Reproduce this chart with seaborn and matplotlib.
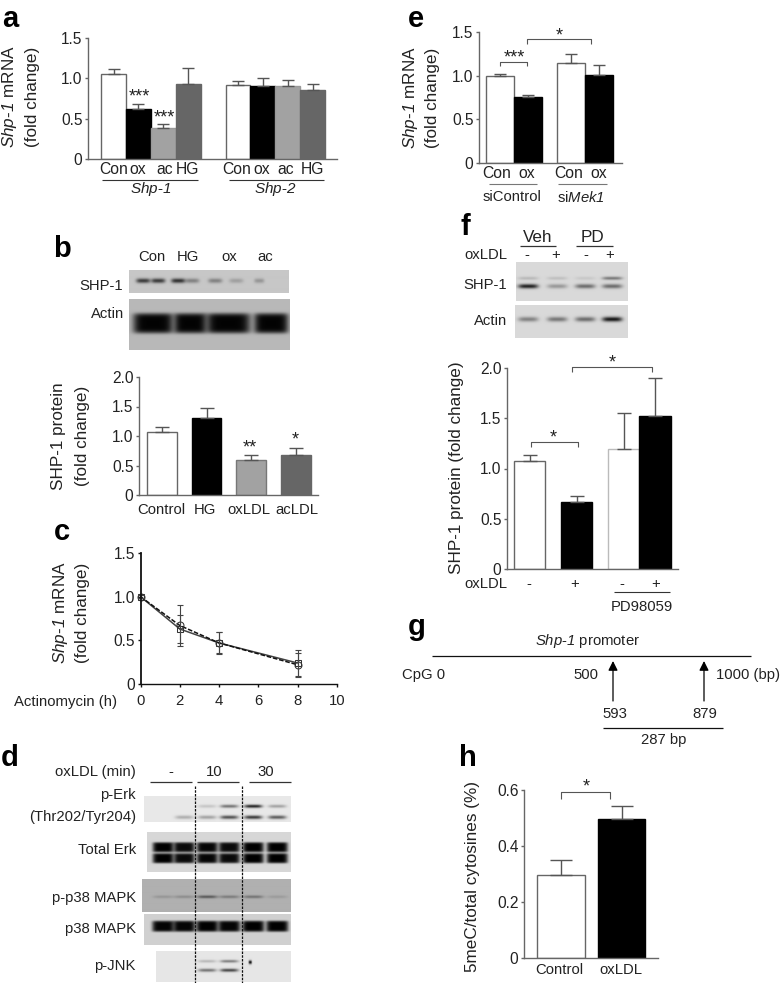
import numpy as np
import pandas as pd
import seaborn as sns
import matplotlib.pyplot as plt

sns.set_theme(style='white')
plt.rcParams['font.family'] = ['Liberation Sans', 'DejaVu Sans']
plt.rcParams['mathtext.fontset'] = 'custom'
plt.rcParams['mathtext.rm'] = 'Liberation Sans'
plt.rcParams['mathtext.it'] = 'Liberation Sans:italic'
plt.rcParams['mathtext.sf'] = 'Liberation Sans:italic'
plt.rcParams['mathtext.default'] = 'regular'

W, H = 780, 983
FS = 10.7
LAB = 12.3
STAR = 13
WHITE, BLACK, LIGHT, DARK = '#ffffff', '#000000', '#a2a2a2', '#666666'
SHP1 = r'$\mathsf{Shp}$-$\mathsf{1}$'
SHP2 = r'$\mathsf{Shp}$-$\mathsf{2}$'

# Values
a_names = ['Con', 'ox', 'ac', 'HG', 'Con ', 'ox ', 'ac ', 'HG ']
a_vals = [1.05, 0.62, 0.38, 0.93, 0.92, 0.91, 0.90, 0.85]
a_errs = [0.07, 0.06, 0.05, 0.20, 0.05, 0.09, 0.08, 0.08]

b_names = ['Control', 'HG', 'oxLDL', 'acLDL']
b_vals = [1.07, 1.30, 0.59, 0.68]
b_errs = [0.09, 0.18, 0.08, 0.12]

c_hours = [0, 2, 4, 8]
c_solid = [1.0, 0.63, 0.47, 0.24]
c_solid_err = [0.02, 0.16, 0.13, 0.15]
c_dash = [1.0, 0.67, 0.47, 0.22]
c_dash_err = [0.02, 0.24, 0.12, 0.14]

e_names = ['Con', 'ox', 'Con ', 'ox ']
e_vals = [1.00, 0.75, 1.14, 1.01]
e_errs = [0.02, 0.03, 0.11, 0.11]

f_names = ['-', '+', '- ', '+ ']
f_vals = [1.07, 0.67, 1.19, 1.52]
f_errs = [0.06, 0.06, 0.36, 0.38]

h_names = ['Control', 'oxLDL']
h_vals = [0.295, 0.495]
h_errs = [0.055, 0.047]

# Band strengths of the blots, one value per lane
d_perk_upper = [0.0, 0.0, 0.15, 0.5, 0.85, 0.3]
d_perk_lower = [0.0, 0.25, 0.3, 0.65, 0.75, 0.6]
d_erk = [1.0, 0.95, 0.97, 0.95, 1.0, 1.0]
d_pp38 = [0.15, 0.2, 0.5, 0.3, 0.35, 0.12]
d_p38 = [0.98, 0.98, 1.0, 0.98, 1.0, 1.0]
d_jnk_upper = [0.0, 0.0, 0.2, 0.45, 0.0, 0.0]
d_jnk_lower = [0.0, 0.0, 0.5, 0.7, 0.0, 0.0]
b_shp1 = [0.7, 0.7, 0.75, 0.35, 0.35, 0.2, 0.25, 0.0]
b_actin = [1.0, 1.0, 1.0, 1.0]
f_shp1_lower = [0.85, 0.3, 0.5, 0.5]
f_shp1_upper = [0.15, 0.12, 0.08, 0.45]
f_actin = [0.4, 0.45, 0.5, 0.9]

fig = plt.figure(figsize=(W / 100, H / 100), dpi=100)


def px_axes(left, top, right, bottom, **kw):
    return fig.add_axes([left / W, 1 - bottom / H, (right - left) / W, (bottom - top) / H], **kw)


over = px_axes(0, 0, W, H, zorder=10)
over.set_xlim(0, W)
over.set_ylim(H, 0)
over.axis('off')
over.patch.set_alpha(0)


def T(x, y, s, ha='center', size=FS, **kw):
    over.text(x, y, s, ha=ha, va='center', fontsize=size, color='#222222', **kw)


def L(xs, ys, c='#333333', lw=0.8, **kw):
    over.plot(xs, ys, color=c, lw=lw, solid_capstyle='butt', **kw)


def style_axis(ax, ticks, ticklabels, color='#666666'):
    sns.despine(ax=ax)
    for s in ['left', 'bottom']:
        ax.spines[s].set_color(color)
        ax.spines[s].set_linewidth(1.0)
    ax.set_yticks(ticks)
    ax.set_yticklabels(ticklabels, fontsize=FS + 0.5, color='#222222')
    ax.tick_params(axis='y', length=2.5, width=1.0, color=color, pad=1.5, left=True)
    ax.set_xlabel('')
    ax.set_ylabel('')
    ax.patch.set_alpha(0)


def bar_panel(rect, names, vals, errs, colors, edges, slots, bar_px, first_left, unit_px, ymax, ticks, ticklabels, width=1.0):
    ax = px_axes(*rect)
    df = pd.DataFrame({'name': names, 'slot': slots, 'value': vals})
    sns.barplot(data=df, x='slot', y='value', hue='name', hue_order=names, palette=colors,
                native_scale=True, width=width, dodge=False, legend=False, errorbar=None,
                saturation=1, ax=ax)
    for patch, edge in zip(ax.patches, edges):
        patch.set_edgecolor(edge)
        patch.set_linewidth(1.0)
    ax.errorbar(slots, vals, yerr=[np.zeros(len(errs)), errs], fmt='none', ecolor='#555555',
                elinewidth=1.0, capsize=bar_px * 0.16, capthick=1.0, zorder=1)
    x0 = slots[0] - bar_px / unit_px / 2 - (first_left - rect[0]) / unit_px
    ax.set_xlim(x0, x0 + (rect[2] - rect[0]) / unit_px)
    ax.set_ylim(0, ymax)
    ax.set_xticks([])
    style_axis(ax, ticks, ticklabels)
    return ax


def blot(rect, bg, bands, power=2):
    # bands: (x px, y px, half width px, half height px, strength)
    left, top, right, bottom = rect
    xx, yy = np.meshgrid(np.arange(left, right, 0.5), np.arange(top, bottom, 0.5))
    img = np.full(xx.shape, bg, dtype=float)
    for bx, by, hw, hh, s in bands:
        d = np.abs((xx - bx) / hw) ** max(4, power) + np.abs((yy - by) / hh) ** power
        img = img * (1 - s * np.exp(-d))
    ax = px_axes(left, top, right, bottom)
    ax.imshow(img, cmap='gray', vmin=0, vmax=1, aspect='auto', interpolation='bilinear')
    ax.axis('off')


# a
bar_panel((88, 38, 337, 159), a_names, a_vals, a_errs,
          [WHITE, BLACK, LIGHT, DARK] * 2, ['#666666', '#000000', '#999999', '#666666'] * 2,
          [0, 1, 2, 3, 5, 6, 7, 8], 25, 101, 24.9, 1.5, [0, 0.5, 1.0, 1.5], ['0', '0.5', '1.0', '1.5'])
T(10, 97, SHP1 + ' mRNA', size=LAB, rotation=90)
T(32, 97, '(fold change)', size=LAB, rotation=90)
for x, s in zip([114, 138, 165, 187, 237, 262, 286, 312], ['Con', 'ox', 'ac', 'HG', 'Con', 'ox', 'ac', 'HG']):
    T(x, 170, s, size=FS + 0.6)
L([102, 198], [180, 180])
L([229, 324], [180, 180])
T(151, 189, SHP1, size=FS + 0.3)
T(275, 189, SHP2, size=FS + 0.3)
T(139, 97, '***', size=STAR)
T(164, 118, '***', size=STAR)

# b
blot((129, 270, 289, 293), 0.78, [(x, 281, w, 2.2, s) for x, w, s in
                                  zip([143, 158, 178, 192, 215, 236, 259, 278], [7, 7, 7, 7, 7, 7, 5, 5], b_shp1)])
blot((129, 299, 290, 350), 0.72, [(x, 323, w, 10, s * 0.98) for x, w, s in
                                  zip([153, 190, 228, 271], [20, 16, 22, 17], b_actin)], power=6)
T(152, 257, 'Con', size=FS)
T(188, 257, 'HG', size=FS)
T(229, 257, 'ox', size=FS)
T(265, 257, 'ac', size=FS)
T(123, 286, 'SHP-1', ha='right', size=FS)
T(124, 314, 'Actin', ha='right', size=FS)
bar_panel((139, 377, 318, 495), b_names, b_vals, b_errs,
          [WHITE, BLACK, LIGHT, DARK], ['#666666', '#000000', '#777777', '#666666'],
          [0, 1, 2, 3], 29.7, 147, 44.7, 2.0, [0, 0.5, 1.0, 1.5, 2.0], ['0', '0.5', '1.0', '1.5', '2.0'], width=0.665)
T(58, 436, 'SHP-1 protein', size=LAB, rotation=90)
T(82, 436, '(fold change)', size=LAB, rotation=90)
for x, s in zip([161, 205, 249, 297], b_names):
    T(x, 510, s, size=FS)
T(250, 448, '**', size=STAR)
T(295, 440, '*', size=STAR)

# c
ax = px_axes(140.5, 553, 337, 684)
df_c = pd.DataFrame({'hours': c_hours * 2, 'value': c_solid + c_dash,
                     'series': ['solid'] * 4 + ['dash'] * 4})
sns.lineplot(data=df_c, x='hours', y='value', hue='series', style='series', palette=['#444444', '#111111'],
             dashes={'solid': '', 'dash': (3, 1.2)}, markers={'solid': 's', 'dash': 'o'}, markersize=5,
             markerfacecolor='none', markeredgecolor='#333333', linewidth=1.1, legend=False, ax=ax, clip_on=False)
ax.errorbar(c_hours, c_solid, yerr=c_solid_err, fmt='none', ecolor='#444444', elinewidth=0.8, capsize=2.5, capthick=0.8, clip_on=False)
ax.errorbar(c_hours, c_dash, yerr=c_dash_err, fmt='none', ecolor='#444444', elinewidth=0.8, capsize=2.5, capthick=0.8, clip_on=False)
ax.set_xlim(0, 10)
ax.set_ylim(0, 1.5)
style_axis(ax, [0, 0.5, 1.0, 1.5], ['0', '0.5', '1.0', '1.5'], color='#111111')
ax.spines['left'].set_linewidth(1.3)
ax.set_xticks([0, 2, 4, 6, 8, 10])
ax.tick_params(axis='x', length=2.5, width=1.0, color='#111111', labelsize=FS, labelcolor='#222222', pad=5, bottom=True)
T(61, 613, SHP1 + ' mRNA', size=LAB, rotation=90)
T(82, 613, '(fold change)', size=LAB, rotation=90)
T(117, 702, 'Actinomycin (h)', ha='right', size=FS)

# d
lanes = [163, 184, 207, 229, 253, 277]
blot((144, 796, 291, 822), 0.91,
     [(x, 806, 9, 1.6, s) for x, s in zip(lanes, d_perk_upper)] +
     [(x, 817, 9, 1.8, s) for x, s in zip(lanes, d_perk_lower)])
blot((147, 832, 291, 872), 0.84,
     [(x, 847, 10.5, 5, s) for x, s in zip(lanes, d_erk)] +
     [(x, 858, 10.5, 5, s) for x, s in zip(lanes, d_erk)], power=6)
blot((142, 879, 291, 912), 0.69, [(x, 897, 10, 1.4, s) for x, s in zip(lanes, d_pp38)])
blot((144, 914, 291, 945), 0.82, [(x, 926, 11, 5.5, s) for x, s in zip(lanes, d_p38)], power=6)
blot((156, 951, 291, 982), 0.90,
     [(x, 961, 9, 1.4, s) for x, s in zip(lanes, d_jnk_upper)] +
     [(x, 970, 9, 1.6, s) for x, s in zip(lanes, d_jnk_lower)] +
     [(250, 962, 1.6, 1.8, 0.95)])
for x in [195, 242]:
    L([x, x], [786, 983], c='#111111', lw=0.9, ls=(0, (2, 1)))
L([150, 192], [782, 782], lw=0.9)
L([197, 239], [782, 782], lw=0.9)
L([249, 291], [782, 782], lw=0.9)
T(136, 772, 'oxLDL (min)', ha='right', size=FS)
T(171, 772, '-', size=FS)
T(214, 772, '10', size=FS)
T(266, 772, '30', size=FS)
T(136, 795, 'p-Erk', ha='right', size=FS)
T(136, 817, '(Thr202/Tyr204)', ha='right', size=FS)
T(136, 850, 'Total Erk', ha='right', size=FS)
T(136, 898, 'p-p38 MAPK', ha='right', size=FS)
T(136, 929, 'p38 MAPK', ha='right', size=FS)
T(136, 966, 'p-JNK', ha='right', size=FS)

# e
bar_panel((479, 32, 622, 163), e_names, e_vals, e_errs,
          [WHITE, BLACK, WHITE, BLACK], ['#666666', '#000000', '#666666', '#000000'],
          [0, 1, 2.54, 3.54], 28, 486, 28, 1.5, [0, 0.5, 1.0, 1.5], ['0', '0.5', '1.0', '1.5'])
T(410, 98, SHP1 + ' mRNA', size=LAB, rotation=90)
T(433, 98, '(fold change)', size=LAB, rotation=90)
for x, s in zip([497, 527, 569, 599], ['Con', 'ox', 'Con', 'ox']):
    T(x, 174, s, size=FS + 0.6)
L([489, 537], [184, 184], c='#777777')
L([558, 607], [184, 184], c='#777777')
T(512, 197, 'siControl', size=FS)
T(581, 197, r'si$\mathsf{Mek1}$', size=FS)
L([500, 500, 527, 527], [66, 62, 62, 66], c='#555555')
L([527, 527, 591, 591], [44, 39, 39, 44], c='#555555')
T(514, 58, '***', size=STAR)
T(559, 36, '*', size=STAR)

# f
blot((516, 262, 628, 301), 0.85,
     [(x, 286, 10, 2.2, s) for x, s in zip([528, 557, 585, 612], f_shp1_lower)] +
     [(x, 278, 10, 1.6, s) for x, s in zip([528, 557, 585, 612], f_shp1_upper)])
blot((515, 305, 628, 338), 0.85, [(x, 319, 10, 2.4, s) for x, s in zip([528, 557, 585, 612], f_actin)])
T(538, 237, 'Veh', size=LAB)
T(593, 237, 'PD', size=LAB)
L([520, 556], [246, 246], lw=0.9)
L([576, 613], [246, 246], lw=0.9)
T(507, 255, 'oxLDL', ha='right', size=FS)
for x, s in zip([527, 556, 586, 610], ['-', '+', '-', '+']):
    T(x, 255, s, size=FS)
T(507, 285, 'SHP-1', ha='right', size=FS)
T(507, 321, 'Actin', ha='right', size=FS)
bar_panel((507, 368, 678, 569), f_names, f_vals, f_errs,
          [WHITE, BLACK, WHITE, BLACK], ['#666666', '#000000', '#bbbbbb', '#000000'],
          [0, 1.5, 3, 4], 31.3, 514, 31.3, 2.0, [0, 0.5, 1.0, 1.5, 2.0], ['0', '0.5', '1.0', '1.5', '2.0'])
T(456, 468, 'SHP-1 protein (fold change)', size=LAB, rotation=90)
T(507, 584, 'oxLDL', ha='right', size=FS)
for x, s in zip([529, 575, 622, 656], ['-', '+', '-', '+']):
    T(x, 584, s, size=FS)
L([614, 670], [592, 592])
T(642, 607, 'PD98059', size=FS)
L([531, 531, 578, 578], [447, 442, 442, 447], c='#555555')
L([572, 572, 652, 652], [372, 367, 367, 372], c='#555555')
T(553, 438, '*', size=STAR)
T(612, 363, '*', size=STAR)

# g
T(588, 641, SHP1 + ' promoter', size=FS)
L([432, 751], [656, 656], c='#111111', lw=0.9)
T(402, 675, 'CpG 0', ha='left', size=FS)
T(586, 675, '500', size=FS)
T(716, 675, '1000 (bp)', ha='left', size=FS)
for x in [613, 704]:
    over.annotate('', xy=(x, 661), xytext=(x, 701),
                  arrowprops=dict(arrowstyle='-|>', color='black', lw=0.9, mutation_scale=14, shrinkA=0, shrinkB=0))
T(615, 714, '593', size=FS)
T(705, 714, '879', size=FS)
L([603, 723], [728, 728], c='#111111', lw=0.9)
T(664, 740, '287 bp', size=FS)

# h
bar_panel((524, 790, 658, 958), h_names, h_vals, h_errs,
          [WHITE, BLACK], ['#666666', '#000000'],
          [0, 1], 48, 537, 60.5, 0.6, [0, 0.2, 0.4, 0.6], ['0', '0.2', '0.4', '0.6'], width=0.79)
T(472, 877, '5meC/total cytosines (%)', size=LAB, rotation=90)
T(559, 970, 'Control', size=FS)
T(621, 970, 'oxLDL', size=FS)
L([561, 561, 610, 610], [799, 792, 792, 799], c='#555555')
T(586, 787, '*', size=STAR)

for x, y, s in [(10, 19, 'a'), (62, 249, 'b'), (62, 532, 'c'), (10, 758, 'd'), (416, 19, 'e'),
                (465, 227, 'f'), (417, 627, 'g'), (468, 758, 'h')]:
    over.text(x, y, s, ha='center', va='center', fontsize=21, fontweight='bold', color='black')

fig.savefig('out.png', dpi=100)
